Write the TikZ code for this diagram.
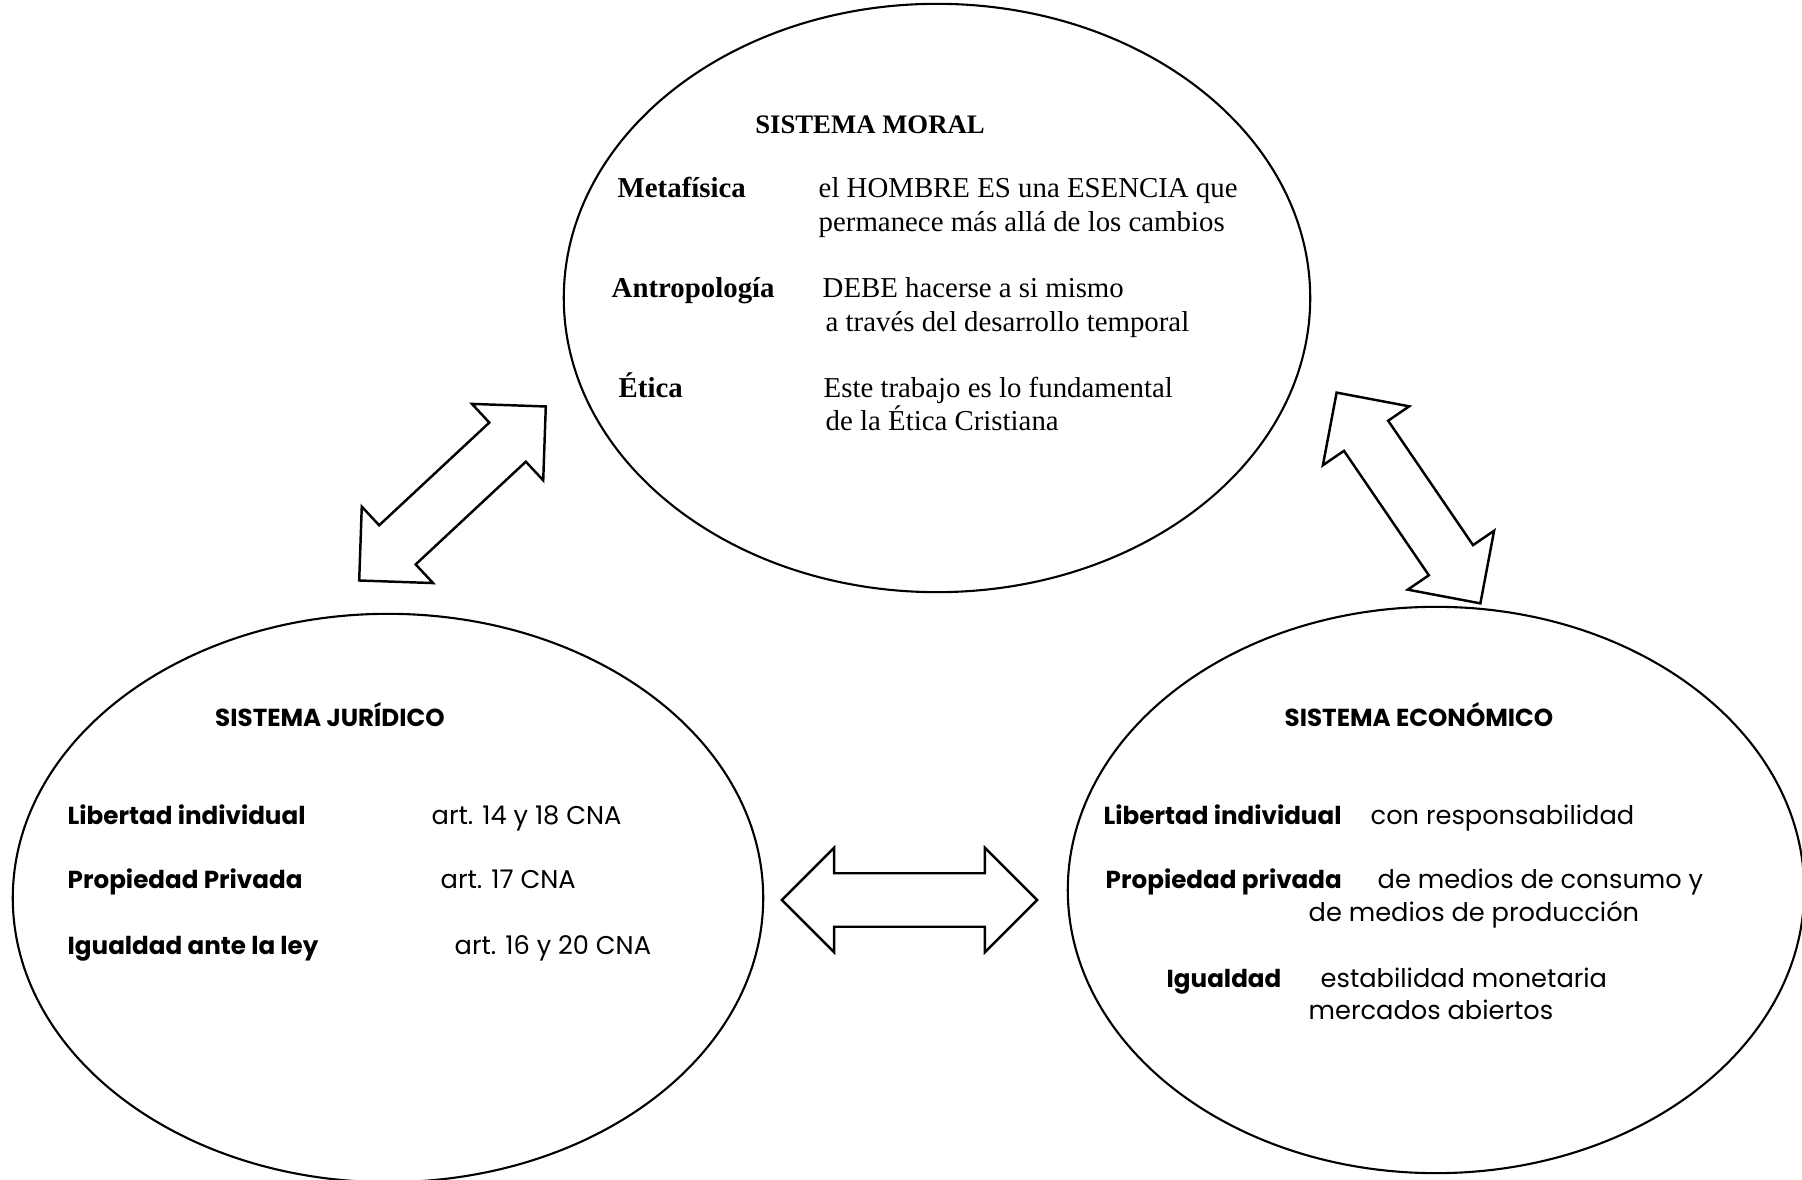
\documentclass[tikz,border=0pt]{standalone}
\usepackage{fontspec}
\setmainfont{Liberation Serif}
\setsansfont{Poppins}
\usetikzlibrary{shapes.geometric, shapes.arrows}

\begin{document}

\begin{tikzpicture}[x = 0.01cm, y = -0.01cm,
	sistema/.style = {ellipse, draw, line width = 0.6pt, inner sep = 0},
	flecha/.style = {double arrow, draw, line width = 0.7pt, inner sep = 0.255cm,
		minimum height = 2.55cm, minimum width = 1.02cm,
		double arrow head extend = 0.255cm, double arrow tip angle = 90},
	serif/.style = {font = \fontsize{8.2}{9.8}\selectfont, anchor = west, inner sep = 0,
		text height = 7.4pt, text depth = 2pt},
	sans/.style = {font = \sffamily\fontsize{7.3}{8.5}\selectfont, anchor = west, inner sep = 0,
		text height = 6.8pt, text depth = 2pt}]

	\useasboundingbox (0, 0) rectangle (1802, 1180);

	% The three systems

	\node (moral) [sistema, minimum width = 7.46cm, minimum height = 5.88cm] at (937, 298) {};
	\node (juridico) [sistema, minimum width = 7.50cm, minimum height = 5.68cm] at (388, 898) {};
	\node (economico) [sistema, minimum width = 7.36cm, minimum height = 5.66cm] at (1436, 890) {};

	% Double arrows between them

	\node (flechaizq) [flecha, rotate = 43] at (452.5, 493.5) {};
	\node (flechader) [flecha, rotate = -55.7] at (1408.5, 498) {};
	\node (flechainf) [flecha] at (909.5, 900) {};

	% Sistema moral

	\node (titmoral) [serif, anchor = center, font = \bfseries\fontsize{7.6}{9}\selectfont] at (870, 124) {SISTEMA MORAL};

	\node (metafisica) [serif, font = \bfseries\fontsize{8.2}{9.8}\selectfont] at (617, 188) {Metafísica};
	\node (hombre) [serif] at (818, 188) {el HOMBRE ES una ESENCIA que};
	\node (permanece) [serif] at (818, 222) {permanece más allá de los cambios};

	\node (antropologia) [serif, font = \bfseries\fontsize{8.2}{9.8}\selectfont] at (611, 288) {Antropología};
	\node (debe) [serif] at (822, 288) {DEBE hacerse a si mismo};
	\node (traves) [serif] at (825, 322) {a través del desarrollo temporal};

	\node (etica) [serif, font = \bfseries\fontsize{8.2}{9.8}\selectfont] at (618, 388) {Ética};
	\node (trabajo) [serif] at (823, 388) {Este trabajo es lo fundamental};
	\node (cristiana) [serif] at (825, 421) {de la Ética Cristiana};

	% Sistema juridico

	\begin{scope}[every node/.append style = {sans}]

		\node (titjuridico) [anchor = center, font = \sffamily\bfseries\fontsize{7}{8}\selectfont] at (330, 718) {SISTEMA JURÍDICO};

		\node (jlibertad) [font = \sffamily\bfseries\fontsize{7}{8}\selectfont] at (67, 816) {Libertad individual};
		\node (art14) at (431, 816) {art. 14 y 18 CNA};
		\node (jpropiedad) [font = \sffamily\bfseries\fontsize{7}{8}\selectfont] at (67, 880) {Propiedad Privada};
		\node (art17) at (440, 880) {art. 17 CNA};
		\node (jigualdad) [font = \sffamily\bfseries\fontsize{7}{8}\selectfont] at (67, 946) {Igualdad ante la ley};
		\node (art16) at (454, 946) {art. 16 y 20 CNA};

	% Sistema economico

		\node (titeconomico) [anchor = center, font = \sffamily\bfseries\fontsize{7}{8}\selectfont] at (1419, 718) {SISTEMA ECONÓMICO};

		\node (elibertad) [font = \sffamily\bfseries\fontsize{7}{8}\selectfont] at (1103, 816) {Libertad individual};
		\node (responsab) at (1370, 816) {con responsabilidad};
		\node (epropiedad) [font = \sffamily\bfseries\fontsize{7}{8}\selectfont] at (1105, 880) {Propiedad privada};
		\node (consumo) at (1377, 880) {de medios de consumo y};
		\node (produccion) at (1308, 913) {de medios de producción};
		\node (eigualdad) [font = \sffamily\bfseries\fontsize{7}{8}\selectfont] at (1166, 979) {Igualdad};
		\node (estabilidad) at (1320, 979) {estabilidad monetaria};
		\node (mercados) at (1308, 1011) {mercados abiertos};

	\end{scope}

\end{tikzpicture}

\end{document}
